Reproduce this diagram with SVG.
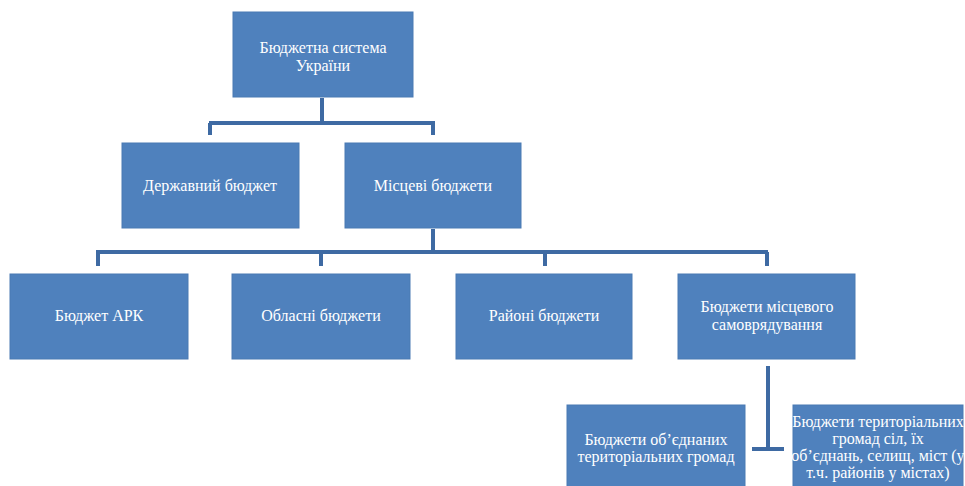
<svg xmlns="http://www.w3.org/2000/svg" width="965" height="486" viewBox="0 0 965 486">
<style>
.box{fill:#4f81bd;stroke:#4a7ab3;stroke-width:1}
.t{font-family:'Liberation Serif','DejaVu Serif',serif;font-size:16px;fill:#ffffff;text-anchor:middle}
.c{stroke:#3e6aa3;stroke-width:4;fill:none}
</style>
<rect width="965" height="486" fill="#ffffff"/>
<g id="connectors">
<path class="c" d="M322 98V121M209 123H435M210 123V135M433 123V135"/>
<path class="c" d="M433 229V250M96 252H768M98 252V266M321 252V266M545 252V266M767 252V266"/>
<path class="c" d="M768 366V449M752 449H784"/>
</g>
<g id="n-root"><rect class="box" x="233" y="12" width="180" height="85"/>
<text class="t" x="323" y="53">Бюджетна система</text><text class="t" x="323" y="71">України</text></g>
<g id="n-state"><rect class="box" x="122" y="143" width="177" height="85"/>
<text class="t" x="210" y="191">Державний бюджет</text></g>
<g id="n-local"><rect class="box" x="345" y="143" width="176" height="85"/>
<text class="t" x="433" y="191">Місцеві бюджети</text></g>
<g id="n-ark"><rect class="box" x="10" y="274" width="178" height="85"/>
<text class="t" x="99" y="321">Бюджет АРК</text></g>
<g id="n-obl"><rect class="box" x="232" y="274" width="178" height="85"/>
<text class="t" x="321" y="321">Обласні бюджети</text></g>
<g id="n-rai"><rect class="box" x="456" y="274" width="176" height="85"/>
<text class="t" x="544" y="321">Районі бюджети</text></g>
<g id="n-self"><rect class="box" x="678" y="274" width="177" height="85"/>
<text class="t" x="767" y="312">Бюджети місцевого</text><text class="t" x="767" y="330">самоврядування</text></g>
<g id="n-otg"><rect class="box" x="567" y="405" width="178" height="90"/>
<text class="t" x="656" y="445">Бюджети об’єднаних</text><text class="t" x="656" y="462">територіальних громад</text></g>
<g id="n-terr"><rect class="box" x="793" y="405" width="170" height="90"/>
<text class="t" x="878" y="427">Бюджети територіальних</text><text class="t" x="878" y="444">громад сіл, їх</text><text class="t" x="878" y="461">об’єднань, селищ, міст (у</text><text class="t" x="878" y="478">т.ч. районів у містах)</text></g>
</svg>
